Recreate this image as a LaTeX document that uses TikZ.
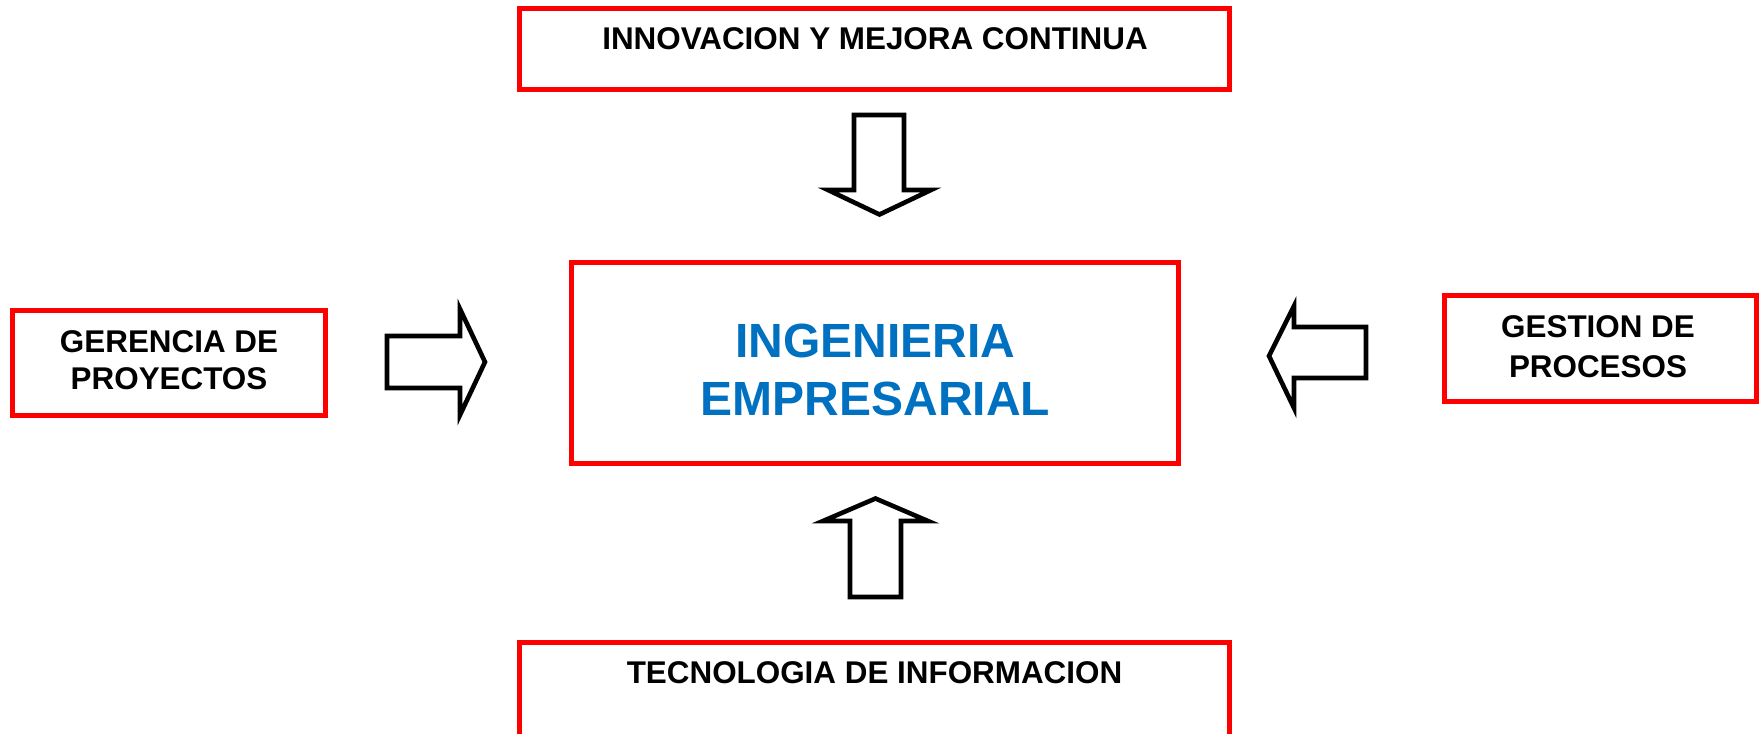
\documentclass[tikz,border=0pt]{standalone}
\usepackage{fontspec}
\setmainfont{Liberation Sans}
\definecolor{boxred}{HTML}{FF0000}
\definecolor{titleblue}{HTML}{0070C0}
\begin{document}
\begin{tikzpicture}[x=0.5pt,y=-0.5pt,
  redbox/.style={draw=boxred, line width=2.5pt},
  blockarrow/.style={draw=black, line width=2.3pt, fill=white, line join=miter},
  smalltext/.style={font=\fontsize{15.7pt}{18pt}\selectfont\bfseries, inner sep=0pt, anchor=base},
  bigtext/.style={font=\fontsize{24pt}{28pt}\selectfont\bfseries, text=titleblue, inner sep=0pt, anchor=base}]
\useasboundingbox (0,0) rectangle (1763,734);
\clip (0,0) rectangle (1763,734);
\fill[white] (0,0) rectangle (1763,734);

% boxes
\draw[redbox] (519.5,8.5) rectangle (1229.5,89.5);
\draw[redbox] (571.5,262) rectangle (1178,463);
\draw[redbox] (12.5,310) rectangle (325.5,415);
\draw[redbox] (1444,295) rectangle (1756,401);
\draw[redbox] (519.5,642) rectangle (1229.5,800);

% texts
\node[smalltext] (innov) at (875,49) {INNOVACION Y MEJORA CONTINUA};
\node[bigtext] (ing1) at (875.5,357.5) {INGENIERIA};
\node[bigtext] (ing2) at (875.5,415.5) {EMPRESARIAL};
\node[smalltext] (ger1) at (169,352) {GERENCIA DE};
\node[smalltext] (ger2) at (169,389) {PROYECTOS};
\node[smalltext] (ges1) at (1598,337) {GESTION DE};
\node[smalltext] (ges2) at (1598,377) {PROCESOS};
\node[smalltext] (tec) at (874.5,683) {TECNOLOGIA DE INFORMACION};

% block arrows
\draw[blockarrow] (854,115) -- (904,115) -- (904,190) -- (931,190) -- (879.5,214.5) -- (828,190) -- (854,190) -- cycle;
\draw[blockarrow] (850,597) -- (901,597) -- (901,521) -- (928,521) -- (875.5,498.5) -- (823,521) -- (850,521) -- cycle;
\draw[blockarrow] (387,336) -- (460,336) -- (460,309) -- (485,362) -- (460,415) -- (460,388) -- (387,388) -- cycle;
\draw[blockarrow] (1366,327) -- (1294,327) -- (1294,306) -- (1269,356) -- (1294,408) -- (1294,378) -- (1366,378) -- cycle;
\end{tikzpicture}
\end{document}
